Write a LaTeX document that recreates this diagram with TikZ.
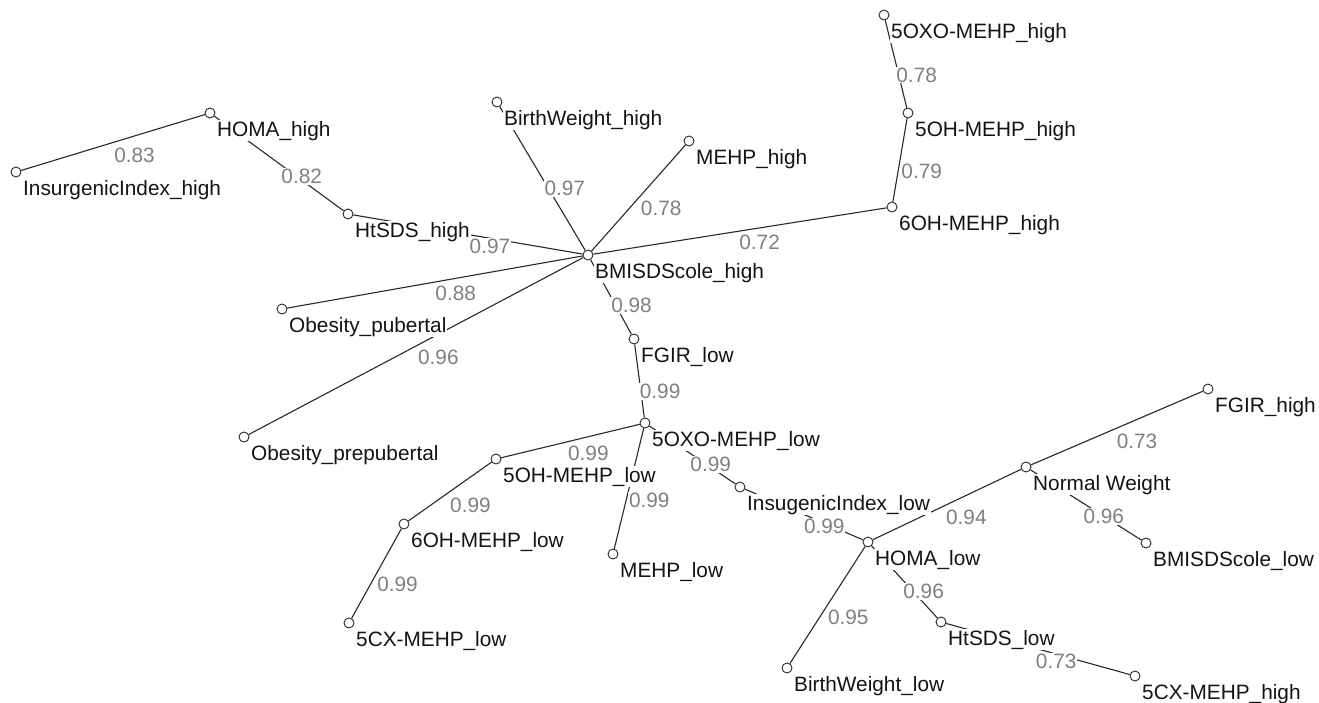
\documentclass[tikz,border=0pt]{standalone}
\usepackage{fontspec}
\setmainfont{Liberation Sans}
\usepackage{tikz}
\usetikzlibrary{positioning}
\definecolor{edgegray}{RGB}{40,40,40}
\definecolor{wtgray}{RGB}{128,128,128}
\definecolor{txtblack}{RGB}{20,20,20}

\begin{document}
\begin{tikzpicture}[x=1pt,y=-1pt,
  font=\fontsize{20.8}{24}\selectfont,
  dot/.style={draw=edgegray,circle,line width=0.9pt,minimum size=10pt,inner sep=0pt},
  lnk/.style={draw=edgegray,line width=1.1pt},
  wt/.style={text=wtgray,fill=white,inner sep=1pt},
  tag/.style={text=txtblack,anchor=base west,fill=white,inner sep=1pt,xshift=6pt,yshift=-23pt}]
\useasboundingbox (0,0) rectangle (1319,702);
% vertices
\node[dot] (IIhi) at (16,172) {};
\node[dot] (HOMAhi) at (210,113) {};
\node[dot] (HtSDShi) at (348,214) {};
\node[dot] (BWhi) at (497,102) {};
\node[dot] (MEHPhi) at (689,141) {};
\node[dot] (OXOhi) at (884,15) {};
\node[dot] (OHhi) at (908,113) {};
\node[dot] (SixOHhi) at (892,207) {};
\node[dot] (BMIhi) at (588,255) {};
\node[dot] (ObPub) at (282,309) {};
\node[dot] (ObPre) at (244,437) {};
\node[dot] (FGIRlo) at (634,339) {};
\node[dot] (OXOlo) at (645,423) {};
\node[dot] (OHlo) at (496,459) {};
\node[dot] (SixOHlo) at (404,524) {};
\node[dot] (CXlo) at (349,623) {};
\node[dot] (MEHPlo) at (613,554) {};
\node[dot] (IIlo) at (740,487) {};
\node[dot] (HOMAlo) at (868,542) {};
\node[dot] (NormW) at (1026,467) {};
\node[dot] (FGIRhi) at (1208,389) {};
\node[dot] (BMIlo) at (1146,543) {};
\node[dot] (HtSDSlo) at (941,622) {};
\node[dot] (CXhi) at (1135,676) {};
\node[dot] (BWlo) at (787,668) {};
% edges and weights
\draw[lnk] (IIhi) -- node[wt,pos=.59,xshift=5pt,yshift=-18pt] (w1) {0.83} (HOMAhi);
\draw[lnk] (HOMAhi) -- node[wt,pos=.66,xshift=2pt,yshift=2pt] (w2) {0.82} (HtSDShi);
\draw[lnk] (HtSDShi) -- node[wt,pos=.60,xshift=-1pt,yshift=-8pt] (w3) {0.97} (BMIhi);
\draw[lnk] (BWhi) -- node[wt,pos=.62,xshift=12pt,yshift=7pt] (w4) {0.97} (BMIhi);
\draw[lnk] (MEHPhi) -- node[wt,pos=.45,xshift=18pt,yshift=-16pt] (w5) {0.78} (BMIhi);
\draw[lnk] (SixOHhi) -- node[wt,pos=.44,xshift=2pt,yshift=-14pt] (w6) {0.72} (BMIhi);
\draw[lnk] (OXOhi) -- node[wt,pos=.67,xshift=17pt,yshift=4pt] (w7) {0.78} (OHhi);
\draw[lnk] (OHhi) -- node[wt,pos=.59,xshift=23pt,yshift=-4pt] (w8) {0.79} (SixOHhi);
\draw[lnk] (ObPub) -- node[wt,pos=.56,xshift=3pt,yshift=-14pt] (w9) {0.88} (BMIhi);
\draw[lnk] (ObPre) -- node[wt,pos=.54,xshift=9pt,yshift=-18pt] (w10) {0.96} (BMIhi);
\draw[lnk] (BMIhi) -- node[wt,pos=.71,xshift=12pt,yshift=7pt] (w11) {0.98} (FGIRlo);
\draw[lnk] (FGIRlo) -- node[wt,pos=.67,xshift=19pt,yshift=2pt] (w12) {0.99} (OXOlo);
\draw[lnk] (OXOlo) -- node[wt,pos=.40,xshift=4pt,yshift=-16pt] (w13) {0.99} (OHlo);
\draw[lnk] (OHlo) -- node[wt,pos=.41,xshift=13pt,yshift=-19pt] (w14) {0.99} (SixOHlo);
\draw[lnk] (SixOHlo) -- node[wt,pos=.50,xshift=21pt,yshift=-11pt] (w15) {0.99} (CXlo);
\draw[lnk] (OXOlo) -- node[wt,pos=.56,xshift=22pt,yshift=-5pt] (w16) {0.99} (MEHPlo);
\draw[lnk] (OXOlo) -- node[wt,pos=.70,xshift=1pt,yshift=2pt] (w17) {0.99} (IIlo);
\draw[lnk] (IIlo) -- node[wt,pos=.68,xshift=-1pt,yshift=-3pt] (w18) {0.99} (HOMAlo);
\draw[lnk] (HOMAlo) -- node[wt,pos=.57,xshift=9pt,yshift=-18pt] (w19) {0.94} (NormW);
\draw[lnk] (NormW) -- node[wt,pos=.57,xshift=8pt,yshift=-18pt] (w20) {0.73} (FGIRhi);
\draw[lnk] (NormW) -- node[wt,pos=.66] (w21) {0.96} (BMIlo);
\draw[lnk] (HOMAlo) -- node[wt,pos=.70,xshift=6pt,yshift=5pt] (w22) {0.96} (HtSDSlo);
\draw[lnk] (HtSDSlo) -- node[wt,pos=.61,xshift=-2pt,yshift=-7pt] (w23) {0.73} (CXhi);
\draw[lnk] (HOMAlo) -- node[wt,pos=.49,xshift=20pt,yshift=-13pt] (w24) {0.95} (BWlo);
% vertex names
\node[tag] (tIIhi) at (IIhi) {InsurgenicIndex\_high};
\node[tag] (tHOMAhi) at (HOMAhi) {HOMA\_high};
\node[tag] (tHtSDShi) at (HtSDShi) {HtSDS\_high};
\node[tag] (tBWhi) at (BWhi) {BirthWeight\_high};
\node[tag] (tMEHPhi) at (MEHPhi) {MEHP\_high};
\node[tag] (tOXOhi) at (OXOhi) {5OXO-MEHP\_high};
\node[tag] (tOHhi) at (OHhi) {5OH-MEHP\_high};
\node[tag] (tSixOHhi) at (SixOHhi) {6OH-MEHP\_high};
\node[tag] (tBMIhi) at (BMIhi) {BMISDScole\_high};
\node[tag] (tObPub) at (ObPub) {Obesity\_pubertal};
\node[tag] (tObPre) at (ObPre) {Obesity\_prepubertal};
\node[tag] (tFGIRlo) at (FGIRlo) {FGIR\_low};
\node[tag] (tOXOlo) at (OXOlo) {5OXO-MEHP\_low};
\node[tag] (tOHlo) at (OHlo) {5OH-MEHP\_low};
\node[tag] (tSixOHlo) at (SixOHlo) {6OH-MEHP\_low};
\node[tag] (tCXlo) at (CXlo) {5CX-MEHP\_low};
\node[tag] (tMEHPlo) at (MEHPlo) {MEHP\_low};
\node[tag] (tIIlo) at (IIlo) {InsugenicIndex\_low};
\node[tag] (tHOMAlo) at (HOMAlo) {HOMA\_low};
\node[tag] (tNormW) at (NormW) {Normal Weight};
\node[tag] (tFGIRhi) at (FGIRhi) {FGIR\_high};
\node[tag] (tBMIlo) at (BMIlo) {BMISDScole\_low};
\node[tag] (tHtSDSlo) at (HtSDSlo) {HtSDS\_low};
\node[tag] (tCXhi) at (CXhi) {5CX-MEHP\_high};
\node[tag] (tBWlo) at (BWlo) {BirthWeight\_low};
\end{tikzpicture}
\end{document}
